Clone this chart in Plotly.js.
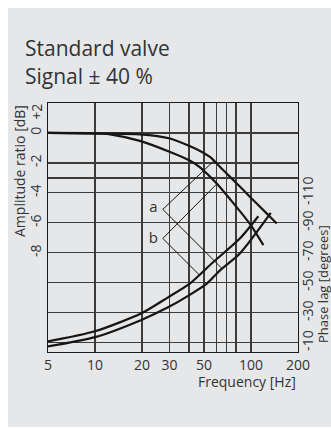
<!DOCTYPE html>
<html>
<head>
<meta charset="utf-8">
<script src="https://cdn.plot.ly/plotly-3.0.1.min.js"></script>
<style>html,body{margin:0;padding:0;background:#fff;}#chart{width:331px;height:428px;}</style>
</head>
<body>
<div id="chart"></div>
<script>
// Amplitude ratio curves (frequency in Hz, amplitude in dB)
const ampA_freq = [5, 10, 19.4, 30.3, 40.7, 47.1, 54.6, 66.5, 81.0, 89.3, 98.6, 120, 146.2];
const ampA_db   = [0, -0.04, -0.09, -0.37, -0.89, -1.20, -1.60, -2.49, -3.37, -3.81, -4.27, -5.15, -6.04];
const ampB_freq = [5, 10, 12.5, 19.4, 30.3, 40.7, 47.1, 60.3, 73.4, 98.6, 120];
const ampB_db   = [0, -0.02, -0.09, -0.53, -1.27, -1.85, -2.29, -3.37, -4.42, -6.09, -7.49];

// Phase lag curves (frequency in Hz, phase in degrees)
const phaseA_freq = [5, 10, 20, 29.4, 40.0, 52.3, 63.3, 85.1, 133.8];
const phaseA_deg  = [-7.5, -13.7, -25.4, -33.6, -41.6, -49.6, -58.3, -69.7, -96.6];
const phaseB_freq = [5, 10, 20, 29.4, 40.7, 57.1, 85.1, 111.4];
const phaseB_deg  = [-10.9, -17.6, -29.8, -40.3, -49.6, -63.7, -79.7, -94.4];

// Curve labels and their leader lines (vertex -> curve)
const labelNames = ['a', 'b'];
const labelFreq  = [23.7, 23.7];
const labelDb    = [-5.0, -7.1];
const leaderA_freq = [58.8, 27.2, 65.2];
const leaderA_db   = [-1.79, -5.1, -9.05];
const leaderB_freq = [60.5, 27.2, 46.4];
const leaderB_db   = [-3.39, -7.04, -9.45];

// Axes ticks
const xTickVals = [5, 10, 20, 30, 40, 50, 60, 70, 80, 100, 200];
const xTickText = ['5', '10', '20', '30', '', '50', '', '', '', '100', '200'];
const yTickVals = [-14, -12, -10, -8, -6, -4, -3, -2, 0, 2];
const yTickText = ['', '', '', '-8', '-6', '-4', '', '-2', '0', ''];
const yTopLabel = '+2';
const yTopLabelDb = 1.38;
const y2TickVals = [-10, -30, -50, -70, -90, -110];
const y2TickText = ['-10', '-30', '-50', '-70', '-90', '-110'];

const FONT = '"Open Sans", "Noto Sans", sans-serif';
const TXT = '#333333';
const lineStyle = {color: '#161616', width: 2.2, shape: 'spline', smoothing: 0.7};
const thin = {color: '#161616', width: 1};

const traces = [
  {x: ampA_freq, y: ampA_db, mode: 'lines', line: lineStyle, hoverinfo: 'skip'},
  {x: ampB_freq, y: ampB_db, mode: 'lines', line: lineStyle, hoverinfo: 'skip'},
  {x: phaseA_freq, y: phaseA_deg, yaxis: 'y2', mode: 'lines', line: lineStyle, hoverinfo: 'skip'},
  {x: phaseB_freq, y: phaseB_deg, yaxis: 'y2', mode: 'lines', line: lineStyle, hoverinfo: 'skip'},
  {x: leaderA_freq, y: leaderA_db, mode: 'lines', line: thin, hoverinfo: 'skip'},
  {x: leaderB_freq, y: leaderB_db, mode: 'lines', line: thin, hoverinfo: 'skip'},
  {x: labelFreq, y: labelDb, mode: 'text', text: labelNames, textposition: 'middle center',
   textfont: {family: FONT, size: 15, color: TXT}, hoverinfo: 'skip'}
];

const layout = {
  width: 331, height: 428,
  margin: {l: 48, r: 33, t: 103, b: 76, pad: 0, autoexpand: false},
  paper_bgcolor: '#ffffff',
  plot_bgcolor: '#ffffff',
  showlegend: false,
  font: {family: FONT, size: 14, color: TXT},
  xaxis: {
    type: 'log', range: [Math.log10(5), Math.log10(200)], automargin: false,
    tickmode: 'array', tickvals: xTickVals, ticktext: xTickText,
    showgrid: true, gridcolor: '#3c3c3c', gridwidth: 1.2,
    showline: true, linecolor: '#1a1a1a', linewidth: 1.2, mirror: true,
    ticks: '', zeroline: false, tickfont: {family: FONT, size: 14, color: TXT}
  },
  yaxis: {
    range: [-14.62, 2], automargin: false,
    tickmode: 'array', tickvals: yTickVals, ticktext: yTickText,
    tickangle: -90,
    showgrid: true, gridcolor: '#3c3c3c', gridwidth: 1.2,
    showline: true, linecolor: '#1a1a1a', linewidth: 1.2, mirror: true,
    ticks: '', zeroline: false, tickfont: {family: FONT, size: 14, color: TXT}
  },
  yaxis2: {
    overlaying: 'y', side: 'right', automargin: false,
    range: [-3.8, -170],
    tickmode: 'array', tickvals: y2TickVals, ticktext: y2TickText,
    tickangle: -90,
    showgrid: false, zeroline: false, showline: false, ticks: '',
    tickfont: {family: FONT, size: 14, color: TXT}
  },
  shapes: [
    {type: 'rect', xref: 'paper', yref: 'paper', x0: -0.16, x1: 1.14, y0: -0.301, y1: 1.3815,
     fillcolor: '#e6e7e8', line: {width: 0}, layer: 'below'}
  ],
  annotations: [
    {text: 'Standard valve', xref: 'paper', yref: 'paper', x: -0.1, y: 1.2197,
     xanchor: 'left', yanchor: 'middle', showarrow: false,
     font: {family: FONT, size: 21, color: TXT}},
    {text: 'Signal \u00b1 40 %', xref: 'paper', yref: 'paper', x: -0.1, y: 1.1072,
     xanchor: 'left', yanchor: 'middle', showarrow: false,
     font: {family: FONT, size: 21, color: TXT}},
    {text: 'Amplitude ratio [dB]', xref: 'paper', yref: 'paper', x: -0.116, y: 1.0,
     xanchor: 'center', yanchor: 'top', textangle: -90, showarrow: false,
     font: {family: FONT, size: 14, color: TXT}},
    {text: yTopLabel, xref: 'paper', yref: 'y', x: -0.046, y: yTopLabelDb,
     xanchor: 'center', yanchor: 'middle', textangle: -90, showarrow: false,
     font: {family: FONT, size: 14, color: TXT}},
    {text: 'Frequency [Hz]', xref: 'paper', yref: 'paper', x: 1.0, y: -0.117,
     xanchor: 'right', yanchor: 'middle', showarrow: false,
     font: {family: FONT, size: 14, color: TXT}},
    {text: 'Phase lag [degrees]', xref: 'paper', yref: 'paper', x: 1.1, y: 0.028,
     xanchor: 'center', yanchor: 'bottom', textangle: -90, showarrow: false,
     font: {family: '"Liberation Sans Narrow", "Open Sans", sans-serif', size: 13, color: TXT}}
  ]
};

Plotly.newPlot('chart', traces, layout, {displayModeBar: false, staticPlot: true});
</script>
</body>
</html>
